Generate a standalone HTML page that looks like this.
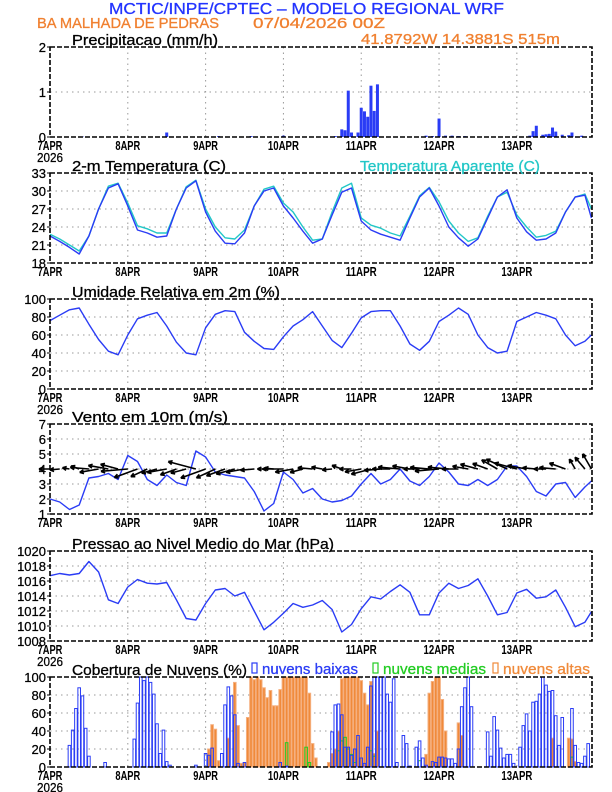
<!DOCTYPE html>
<html><head><meta charset="utf-8"><style>
html,body{margin:0;padding:0;background:#fff}
svg{display:block}
text{font-family:"Liberation Sans",sans-serif}
</style></head><body>
<svg id="c" width="612" height="792" viewBox="0 0 612 792" xmlns="http://www.w3.org/2000/svg">
<rect width="612" height="792" fill="#fff"/>
<text x="109" y="14" font-size="16" fill="#2233ff" stroke="#2233ff" stroke-width="0.3" textLength="395" lengthAdjust="spacingAndGlyphs">MCTIC/INPE/CPTEC – MODELO REGIONAL WRF</text>
<text x="37" y="28" font-size="15" fill="#f08030" stroke="#f08030" stroke-width="0.3" textLength="182" lengthAdjust="spacingAndGlyphs">BA MALHADA DE PEDRAS</text>
<text x="253" y="28" font-size="15" fill="#f08030" stroke="#f08030" stroke-width="0.3" textLength="132" lengthAdjust="spacingAndGlyphs">07/04/2026 00Z</text>
<text x="361" y="44" font-size="15" fill="#f08030" stroke="#f08030" stroke-width="0.3" textLength="199" lengthAdjust="spacingAndGlyphs">41.8792W 14.3881S 515m</text>
</svg>
<script>
// ---------- data ----------
const dayLabels=["7APR","8APR","9APR","10APR","11APR","12APR","13APR"];
const precipHours=[10,36,52,62,72,88,90,91,92,93,95,96,97,98,99,100,101,116,118,120,122,124,126,128,148,149,150,152,153,154,155,156,158,160,161,164];
const precipVals=[0.01,0.1,0.02,0.02,0.03,0.02,0.17,0.15,1.03,0.1,0.1,0.65,0.57,0.45,1.14,0.58,1.17,0.03,0.02,0.41,0.03,0.03,0.02,0.02,0.03,0.13,0.25,0.05,0.06,0.07,0.21,0.12,0.05,0.04,0.1,0.03];
const tempVals=[22.5,21.6,20.6,19.5,22.5,27,30.5,31.2, 27.5,23.5,23,22.3,22.5,27,30.5,31.7, 26.5,23.3,21.3,21.2,23,27.5,30,30.5, 27.5,25.5,23.3,21.3,22,26,29.8,30.5, 25,23.5,22.8,22.3,21.8,25.5,29,30.5, 27.5,24,22.2,20.8,22,25.5,29,30.2, 25.5,23.2,21.8,22,23,26.5,29,29.3,25.5];
const appTempVals=[22.8,22,21,20,22.5,27,30.8,31.3, 28,24.2,23.7,23,23,27,30.7,31.8, 27,24,22.2,22,23.5,27.5,30.3,30.8, 28,26.5,24,21.8,22,26.5,30.5,31.3, 25.5,24.3,23.8,23,22.5,25.8,29.2,30.6, 28.2,25,23,21.6,22.2,25.8,29,29.8, 26,24,22.3,22.6,23.3,26.5,29,29.5,27];
const rhVals=[76,82,88,90,72,55,42,38, 60,78,82,85,70,52,40,38, 68,83,87,86,63,53,45,44, 58,70,77,86,70,54,46,62, 79,86,87,87,70,50,43,53, 75,82,90,83,60,46,40,42, 75,80,85,82,78,60,48,53,60];
const windVals=[2.0,1.8,1.3,1.6,3.4,3.5,3.7,3.3, 4.9,4.5,3.3,2.9,3.6,3.1,2.9,5.2, 4.8,3.8,3.6,3.5,3.4,2.5,1.2,1.7, 3.8,3.3,2.4,2.7,2.0,1.8,1.9,2.2, 3.0,3.7,3.0,3.3,4.0,3.2,2.9,3.5, 4.4,3.8,3.0,2.9,3.3,2.9,3.3,4.2, 4.2,3.5,2.5,2.2,3.0,3.1,2.1,2.8,3.2];
const windDir=[180,185,170,160,175,190,170,165, 185,200,205,195,190,200,195,165, 200,205,200,195,190,185,180,175, 180,190,195,175,170,185,160,180, 190,195,185,180,175,170,180,175, 185,175,180,170,165,160,150,155, 165,170,175,180,175,160,120,130,120];
const presVals=[1016.7,1017.0,1016.8,1017.0,1018.6,1017.2,1013.5,1013.0, 1015.2,1016.2,1015.7,1015.6,1015.8,1013.5,1011.0,1010.8, 1013.0,1014.8,1015.0,1014.0,1014.5,1012.0,1009.5,1010.5, 1011.7,1013.0,1012.5,1012.8,1013.4,1012.2,1009.2,1010.2, 1012.3,1013.9,1013.6,1014.6,1015.5,1014.5,1011.5,1011.5, 1014.4,1015.7,1015.0,1015.4,1016.3,1014.0,1011.5,1011.8, 1014.4,1014.9,1013.7,1013.9,1014.8,1012.5,1009.9,1010.5,1011.9];
const lowHours=[6,7,8,9,10,11,12,17, 26,27,28,29,30,31,32,33,34,35,36,37, 45,48,49,50,53,54,55,56,57,58,60, 71,73, 87,88,89,90,91,92,93,94,95,96,97,98,99,100,101,102,103,104,105,106,107,109,110,111,113,114,115,116,118,119,120,121,122,123,124,125,126,127,128,129,130, 135,136,137,138,139,140,141,142,143,145,146,147,148,149,150,151,152,153,154,155,156,157,158,161,162,163,164,165,166];
const lowVals=[24,41,65,88,79,43,12,5, 31,71,100,96,100,94,81,48,15,41,6,2, 2,15,13,21,15,69,89,79,58,4,5, 5,1, 39,69,70,58,22,22,13,20,35,10,4,22,90,100,100,100,100,81,72,98,5,35,26,1,22,29,10,2,6,5,11,11,10,9,9,4,20,67,88,100,67,39, 12,56,41,21,10,14,14,4,22,46,59,40,72,73,81,100,91,84,85,57,24,55,65,24,5,4,12,26,33,33];
const midHours=[73,79,80,89,90,91,92,93,94,99,100,114,161];
const midVals=[27,22,5,18,29,33,20,14,5,18,12,7,11];
const highHours=[49,50,51,52,55,57,58,59,60,61,62,63,64,65,66,67,68,69,70,71,72,73,74,75,76,77,78,79,80,81,82, 86,87,88,89,90,91,92,93,94,95,96,97,98,99,100,101, 116,117,118,119,120,121,122,126,127, 155,160,161,162];
const highVals=[20,47,42,7,32,94,46,4,5,55,100,97,100,97,88,77,85,68,68,86,100,100,100,100,100,100,100,100,82,26,10, 5,15,20,40,98,100,100,100,100,100,96,82,69,95,15,40, 14,82,95,100,100,75,40,49,35, 32,32,31,6];

// ---------- layout ----------
const NS="http://www.w3.org/2000/svg";
const svg=document.getElementById('c');
const X0=50, PXH=3.242, X1=592;
const BLUE="#2a3cf5", ORANGE="#f08a3a", CYAN="#22c7c7", GREEN="#22cc22";
function xh(h){return X0+h*PXH;}
function mk(tag,attrs,parent){const e=document.createElementNS(NS,tag);for(const k in attrs)e.setAttribute(k,attrs[k]);(parent||svg).appendChild(e);return e;}
const hours3=[];for(let i=0;i<56;i++)hours3.push(i*3);hours3.push(167);

function panel(name,top,ymin,ymax,step,title,titleLen,withYear){
  const H=90, bot=top+H;
  const g=mk('g',{});
  
  
  const yf=v=>bot-(v-ymin)/(ymax-ymin)*H;
  for(let v=ymin+step;v<ymax;v+=step){
    const l=mk('line',{x1:X0,x2:X1,y1:yf(v),y2:yf(v),stroke:'#999','stroke-width':1,'stroke-dasharray':'1.5,4'},g);
    
    
  }
  for(let d=1;d<7;d++){
    const x=xh(d*24);
    const l=mk('line',{x1:x,x2:x,y1:top,y2:bot,stroke:'#999','stroke-width':1,'stroke-dasharray':'1.5,4'},g);
    
    
  }
  for(let v=ymin;v<=ymax+1e-9;v+=step){
    const t=mk('text',{x:X0-4,y:yf(v)+5,'font-size':13,'text-anchor':'end',fill:'#000',stroke:'#000','stroke-width':0.25},g);
    t.textContent=String(Math.round(v));
    
    
    const tk=mk('line',{x1:X0-3,x2:X0,y1:yf(v),y2:yf(v),stroke:'#000'},g);
    
    
  }
  for(let d=0;d<7;d++){
    const x=xh(d*24);
    const t=mk('text',{x:x,y:bot+13,'font-size':13,'font-weight':'bold','text-anchor':'middle',fill:'#000',textLength:dayLabels[d].length*6.2,lengthAdjust:'spacingAndGlyphs'},g);
    t.textContent=dayLabels[d];
    
    
  }
  if(withYear){
    const t=mk('text',{x:xh(0),y:bot+25,'font-size':13,'text-anchor':'middle',fill:'#000',stroke:'#000','stroke-width':0.25,textLength:26,lengthAdjust:'spacingAndGlyphs'},g);
    t.textContent="2026";
    
    
  }
  const tt=mk('text',{x:72,y:top-2,'font-size':15,fill:'#000',stroke:'#000','stroke-width':0.3,textLength:titleLen,lengthAdjust:'spacingAndGlyphs'},g);
  tt.textContent=title;
  
  
  const plot=mk('g',{},g);
  
  
  const fr=mk('rect',{x:X0,y:top,width:X1-X0,height:H,fill:'none',stroke:'#000','stroke-width':1.6,'stroke-dasharray':'5,2'},g);
  
  
  g.appendChild(fr);
  return {g,plot,yf,top,bot};
}
function line(p,vals,color,name){
  const pts=vals.map((v,i)=>xh(hours3[i]).toFixed(1)+','+p.yf(v).toFixed(1)).join(' ');
  const l=mk('polyline',{points:pts,fill:'none',stroke:color,'stroke-width':1.4,'stroke-linejoin':'round'},p.plot);
  
  
}

// Precip
const p1=panel('precip',47,0,2,1,'Precipitacao (mm/h)',146,true);
precipHours.forEach((h,i)=>{
  const y=p1.yf(precipVals[i]);
  const r=mk('rect',{x:xh(h)-1.5,y:y,width:3,height:Math.max(p1.bot-y,0.5),fill:BLUE},p1.plot);
  
  
});
// Temp
const p2=panel('temperature',173,18,33,3,'2-m Temperatura (C)',154,false);
line(p2,appTempVals,CYAN,'apparent-temperature-line');
line(p2,tempVals,BLUE,'temperature-line');
const lt=mk('text',{x:360,y:171,'font-size':15,fill:CYAN,stroke:CYAN,'stroke-width':0.3,textLength:180,lengthAdjust:'spacingAndGlyphs'});
lt.textContent='Temperatura Aparente (C)';


// RH
const p3=panel('humidity',299,0,100,20,'Umidade Relativa em 2m (%)',208,true);
line(p3,rhVals,BLUE,'humidity-line');
// Wind
const p4=panel('wind',424,1,7,1,'Vento em 10m (m/s)',156,false);
line(p4,windVals,BLUE,'wind-speed-line');
const y4=p4.yf(4);
windVals.forEach((s,i)=>{
  const x=xh(hours3[i]), a=windDir[i]*Math.PI/180, L=s*5.5;
  const tx=x+L*Math.cos(a), ty=y4-L*Math.sin(a);
  const h1=a+Math.PI-0.45, h2=a+Math.PI+0.45;
  const d=`M${x},${y4}L${tx},${ty}M${tx},${ty}L${tx+4.5*Math.cos(h1)},${ty-4.5*Math.sin(h1)}M${tx},${ty}L${tx+4.5*Math.cos(h2)},${ty-4.5*Math.sin(h2)}`;
  const ar=mk('path',{d:d,stroke:'#000','stroke-width':1.6,fill:'none'},p4.plot);
  
  
});
// Pressure
const p5=panel('pressure',551,1008,1020,2,'Pressao ao Nivel Medio do Mar (hPa)',262,true);
line(p5,presVals,BLUE,'pressure-line');
// Clouds
const p6=panel('clouds',677,0,100,20,'Cobertura de Nuvens (%)',175,true);
function bars(hs,vs,fill,stroke,name){
  hs.forEach((h,i)=>{
    const y=p6.yf(vs[i]);
    const r=mk('rect',{x:xh(h)-1.3,y:y,width:2.6,height:Math.max(p6.bot-y,0.3),fill:fill,stroke:stroke,'stroke-width':1},p6.plot);
    
    
  });
}
bars(highHours,highVals,ORANGE,'#f5b080','high-cloud-bar');
bars(midHours,midVals,'none',GREEN,'mid-cloud-bar');
bars(lowHours,lowVals,'none',BLUE,'low-cloud-bar');
// legend
[[252,'nuvens baixas',BLUE,96,'low'],[373,'nuvens medias',GREEN,103,'mid'],[493,'nuvens altas',ORANGE,87,'high']].forEach(l=>{
  const b=mk('rect',{x:l[0],y:663,width:5,height:10,fill:'none',stroke:l[2],'stroke-width':1.2});
  
  
  const t=mk('text',{x:l[0]+10,y:674,'font-size':15,fill:l[2],stroke:l[2],'stroke-width':0.3,textLength:l[3],lengthAdjust:'spacingAndGlyphs'});
  t.textContent=l[1];
  
  
});
</script>
</body></html>
